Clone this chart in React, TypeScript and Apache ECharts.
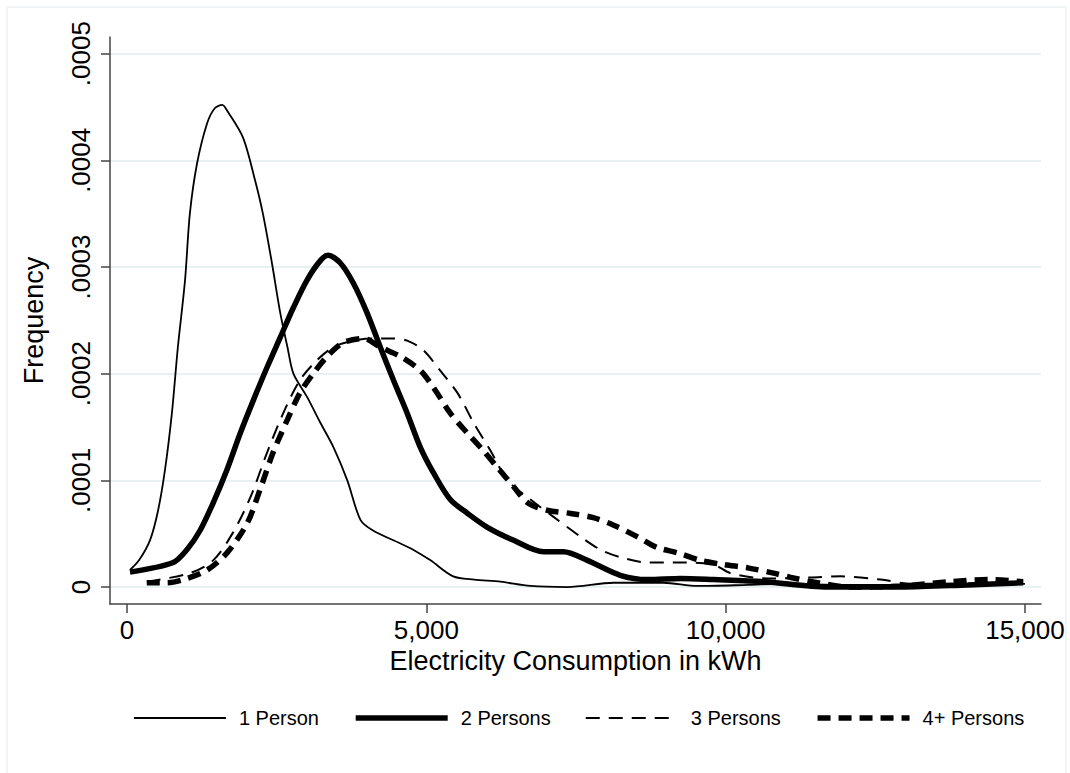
import React, { useEffect, useRef } from "react";
import * as echarts from "echarts";

// Kernel density estimates (frequency in units of 1e-4)
const onePersonX = [50, 200, 385, 520, 635, 750, 850, 970, 1050, 1170, 1340, 1470, 1590, 1690, 1940, 2140, 2270, 2420, 2560, 2680, 2780, 3010, 3230, 3450, 3680, 3900, 4110, 4560, 4780, 5070, 5450, 5800, 6240, 6740, 7360, 8130, 8960, 9530, 10370, 11000, 12000, 13000, 14000, 15000];
const onePersonY = [0.16, 0.25, 0.44, 0.72, 1.10, 1.63, 2.25, 2.88, 3.5, 3.97, 4.35, 4.49, 4.52, 4.45, 4.21, 3.81, 3.50, 3.04, 2.57, 2.25, 2.0, 1.78, 1.54, 1.31, 1.0, 0.63, 0.53, 0.41, 0.35, 0.25, 0.10, 0.07, 0.05, 0.01, 0.0, 0.04, 0.04, 0.01, 0.02, 0.03, 0.02, 0.02, 0.03, 0.03];

const twoPersonsX = [50, 770, 1000, 1220, 1440, 1670, 1890, 2110, 2340, 2560, 2780, 3010, 3230, 3360, 3560, 3780, 4010, 4230, 4450, 4680, 4900, 5120, 5400, 5690, 6020, 6450, 6960, 7290, 7690, 8240, 8700, 9250, 9800, 10640, 11700, 12930, 14050, 14970];
const twoPersonsY = [0.14, 0.23, 0.35, 0.53, 0.79, 1.10, 1.44, 1.75, 2.06, 2.34, 2.62, 2.88, 3.06, 3.11, 3.04, 2.85, 2.57, 2.25, 1.94, 1.63, 1.31, 1.07, 0.82, 0.69, 0.56, 0.44, 0.33, 0.33, 0.25, 0.11, 0.07, 0.08, 0.07, 0.05, 0.0, 0.0, 0.02, 0.04];

const threePersonsX = [330, 1050, 1440, 1770, 2060, 2340, 2610, 2890, 3180, 3450, 3780, 4110, 4450, 4680, 4950, 5230, 5520, 5790, 6070, 6360, 6740, 7120, 7580, 7910, 8240, 8700, 9250, 9800, 10080, 10700, 11420, 11920, 12590, 13100, 14000, 14970];
const threePersonsY = [0.05, 0.13, 0.25, 0.51, 0.84, 1.26, 1.63, 1.94, 2.13, 2.25, 2.31, 2.33, 2.33, 2.31, 2.22, 2.03, 1.82, 1.54, 1.28, 1.0, 0.82, 0.66, 0.47, 0.35, 0.28, 0.23, 0.23, 0.21, 0.13, 0.08, 0.09, 0.1, 0.07, 0.03, 0.03, 0.05];

const fourPlusX = [330, 670, 1000, 1340, 1670, 2010, 2220, 2440, 2680, 2890, 3110, 3340, 3610, 3950, 4230, 4570, 4900, 5120, 5400, 5690, 5950, 6190, 6460, 6690, 7020, 7410, 7790, 8130, 8530, 8860, 9200, 9580, 9970, 10370, 10800, 11090, 11540, 12090, 12930, 13760, 14430, 14970];
const fourPlusY = [0.04, 0.04, 0.08, 0.16, 0.32, 0.60, 0.91, 1.26, 1.57, 1.82, 2.0, 2.16, 2.29, 2.33, 2.25, 2.16, 2.03, 1.87, 1.63, 1.44, 1.28, 1.12, 0.94, 0.79, 0.72, 0.69, 0.65, 0.58, 0.47, 0.37, 0.32, 0.25, 0.21, 0.18, 0.13, 0.09, 0.04, 0.0, 0.01, 0.05, 0.07, 0.05];

const seriesNames = ["1 Person", "2 Persons", "3 Persons", "4+ Persons"];
const xTicks = [0, 5000, 10000, 15000];
const yTicks = [0, 0.0001, 0.0002, 0.0003, 0.0004, 0.0005];
const yScale = 0.0001;

const FONT = "'Liberation Sans', Arial, Helvetica, sans-serif";

const styles = [
  { width: 1.8, type: "solid" as any },
  { width: 5.5, type: "solid" as any },
  { width: 2, type: [14, 9] as any },
  { width: 5.5, type: [13, 8] as any },
];

function pairs(xs: number[], ys: number[]) {
  return xs.map((x, i) => [x, ys[i] * yScale]);
}

export default function App() {
  const ref = useRef<HTMLDivElement>(null);
  useEffect(() => {
    if (!ref.current) return;
    const chart = echarts.init(ref.current, undefined, { renderer: "svg" });
    const datasets = [
      pairs(onePersonX, onePersonY),
      pairs(twoPersonsX, twoPersonsY),
      pairs(threePersonsX, threePersonsY),
      pairs(fourPlusX, fourPlusY),
    ];
    chart.setOption({
      animation: false,
      backgroundColor: "#ffffff",
      textStyle: { fontFamily: FONT },
      graphic: [
        {
          type: "rect",
          shape: { x: 7, y: 7, width: 1059, height: 770 },
          style: { fill: "none", stroke: "#e4ecef", lineWidth: 1 },
          silent: true,
        },
      ],
      grid: { left: 110, top: 37, right: 29, bottom: 169, containLabel: false },
      xAxis: {
        type: "value",
        min: -284,
        max: 15268,
        name: "Electricity Consumption in kWh",
        nameLocation: "middle",
        nameGap: 43,
        nameTextStyle: { fontSize: 27, color: "#000", fontFamily: FONT },
        axisLine: { show: true, onZero: false, lineStyle: { color: "#444", width: 1.5 } },
        axisTick: { show: true, length: 9, customValues: xTicks, lineStyle: { color: "#444", width: 1.5 } },
        axisLabel: {
          customValues: xTicks,
          fontSize: 26,
          color: "#000",
          margin: 13,
          fontFamily: FONT,
          formatter: (v: number) => v.toLocaleString("en-US"),
        },
        splitLine: { show: false },
      },
      yAxis: {
        type: "value",
        min: -0.0000159,
        max: 0.0005156,
        name: "Frequency",
        nameLocation: "middle",
        nameRotate: 90,
        nameGap: 63,
        nameTextStyle: { fontSize: 27, color: "#000", fontFamily: FONT },
        axisLine: { show: true, onZero: false, lineStyle: { color: "#444", width: 1.5 } },
        axisTick: { show: true, length: 9, customValues: yTicks, lineStyle: { color: "#444", width: 1.5 } },
        axisLabel: {
          customValues: yTicks,
          rotate: 90,
          fontSize: 26,
          color: "#000",
          margin: 16,
          fontFamily: FONT,
          formatter: (v: number) => (Math.abs(v) < 1e-12 ? "0" : v.toFixed(4).replace(/^0/, "")),
        },
        splitLine: { show: true, lineStyle: { color: "#e8f0f2", width: 2 } },
      },
      legend: {
        left: 128,
        top: 703,
        itemWidth: 92,
        itemHeight: 22,
        itemGap: 34,
        textStyle: { fontSize: 20, color: "#000", fontFamily: FONT, padding: [0, 0, 0, 8] },
        data: seriesNames.map((n, i) => ({
          name: n,
          itemStyle: { opacity: 0 },
          lineStyle: { width: styles[i].width, type: styles[i].type, color: "#000", cap: "butt" },
        })),
      },
      series: seriesNames.map((n, i) => ({
        type: "line",
        name: n,
        symbol: "none",
        smooth: 0.3,
        silent: true,
        data: datasets[i],
        lineStyle: { color: "#000", width: styles[i].width, type: styles[i].type },
        itemStyle: { color: "#000" },
      })),
    });
    return () => chart.dispose();
  }, []);
  return (
    <div
      ref={ref}
      style={{ position: "absolute", left: 0, top: 0, width: 1070, height: 773 }}
    />
  );
}
